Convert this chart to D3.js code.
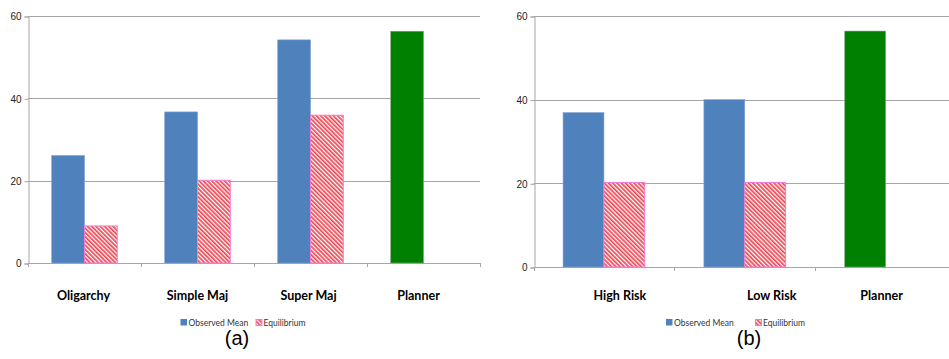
<!DOCTYPE html>
<html>
<head>
<meta charset="utf-8">
<script src="https://cdn.jsdelivr.net/npm/d3@7"></script>
<style>
  html, body { margin: 0; padding: 0; background: #fff; }
  svg { display: block; }
</style>
</head>
<body>
<svg id="chart" width="949" height="359"></svg>
<script>
// Panel (a): voting rules
const rulesCategories = ["Oligarchy", "Simple Maj", "Super Maj", "Planner"];
const rulesObserved = [26.1, 36.7, 54.2, 56.3];
const rulesEquilibrium = [9.0, 20.1, 35.9, null];

// Panel (b): risk treatments
const riskCategories = ["High Risk", "Low Risk", "Planner"];
const riskObserved = [36.9, 40.0, 56.4];
const riskEquilibrium = [20.2, 20.2, null];

const seriesNames = ["Observed Mean", "Equilibrium"];
const yTicks = [0, 20, 40, 60];
const panelTitles = ["(a)", "(b)"];

const svg = d3.select("#chart");

const BLUE = "#4f81bd";
const GREEN = "#008000";
const GRID = "#a6a6a6";

// Diagonal red hatch used for the equilibrium series
const defs = svg.append("defs");
const pat = defs.append("pattern")
  .attr("id", "hatch")
  .attr("patternUnits", "userSpaceOnUse")
  .attr("width", 3).attr("height", 3)
  .attr("patternTransform", "rotate(-45)");
pat.append("rect").attr("width", 3).attr("height", 3).attr("fill", "#fff");
pat.append("rect").attr("width", 1.7).attr("height", 3).attr("fill", "#f2434f");

function drawPanel(cfg) {
  const { left, right, top, bottom, categories, observed, equilibrium, title } = cfg;
  const g = svg.append("g");

  const x = d3.scaleBand().domain(categories).range([left, right]).padding(0);
  const y = d3.scaleLinear().domain([0, 60]).range([bottom, top]);

  // horizontal gridlines
  g.selectAll("line.grid").data(yTicks).enter().append("line")
    .attr("x1", left).attr("x2", right)
    .attr("y1", d => Math.round(y(d)) + 0.5).attr("y2", d => Math.round(y(d)) + 0.5)
    .attr("stroke", GRID).attr("stroke-width", 1);

  // y axis
  const yAxis = d3.axisLeft(y).tickValues(yTicks).tickSize(4).tickPadding(3);
  const ya = g.append("g").attr("transform", `translate(${Math.round(left) + 0.5},0.5)`).call(yAxis);
  ya.select(".domain").attr("stroke", GRID);
  ya.selectAll(".tick line").attr("stroke", GRID);
  ya.selectAll(".tick text")
    .attr("font-family", "'Liberation Sans', Arial, sans-serif")
    .attr("font-size", 10).attr("fill", "#222");

  // x-axis ticks at category boundaries
  const bounds = categories.map(c => x(c)).concat([right]);
  g.selectAll("line.xt").data(bounds).enter().append("line")
    .attr("x1", d => Math.round(d) + 0.5).attr("x2", d => Math.round(d) + 0.5)
    .attr("y1", Math.round(bottom)).attr("y2", Math.round(bottom) + 4)
    .attr("stroke", GRID);

  // bars
  const groupFrac = 0.58;
  const rows = categories.map((c, i) => ({ c, vals: [observed[i], equilibrium[i]] }));
  const inner = d3.scaleBand().domain([0, 1]).range([0, x.bandwidth() * groupFrac]);
  const off = x.bandwidth() * (1 - groupFrac) / 2;

  rows.forEach(r => {
    r.vals.forEach((v, k) => {
      if (v == null) return;
      const isPlanner = r.c === "Planner";
      const rect = g.append("rect")
        .attr("x", x(r.c) + off + inner(k))
        .attr("y", y(v))
        .attr("width", inner.bandwidth())
        .attr("height", y(0) - y(v));
      if (k === 0) {
        rect.attr("fill", isPlanner ? GREEN : BLUE)
          .attr("stroke", isPlanner ? "#7aa87a" : "#7d9fcf").attr("stroke-width", 0.6);
      } else {
        rect.attr("fill", "url(#hatch)").attr("stroke", "#f27bd6").attr("stroke-width", 1);
      }
    });
  });

  // category labels
  g.selectAll("text.cat").data(categories).enter().append("text")
    .attr("x", (d, i) => x(d) + x.bandwidth() / 2 + (cfg.labelDx ? cfg.labelDx[i] : 0))
    .attr("y", 300)
    .attr("text-anchor", "middle")
    .attr("font-family", "Lato, 'Open Sans', sans-serif")
    .attr("font-weight", 700)
    .attr("font-size", 12.5)
    .attr("fill", "#000")
    .text(d => d);

  // legend
  const lg = g.append("g").attr("transform", `translate(${cfg.legendX},319)`);
  const l2 = cfg.legendGap;
  lg.append("rect").attr("x", 0).attr("y", 0).attr("width", 6.5).attr("height", 6.5).attr("fill", BLUE);
  lg.append("text").attr("x", 8).attr("y", 6.8)
    .attr("font-family", "Lato, 'Open Sans', sans-serif").attr("font-size", 8.5).attr("fill", "#333")
    .text(seriesNames[0]);
  lg.append("rect").attr("x", l2 + 0.5).attr("y", 0.5).attr("width", 6).attr("height", 6)
    .attr("fill", "url(#hatch)").attr("stroke", "#f27bd6").attr("stroke-width", 1);
  lg.append("text").attr("x", l2 + 8).attr("y", 6.8)
    .attr("font-family", "Lato, 'Open Sans', sans-serif").attr("font-size", 8.5).attr("fill", "#333")
    .text(seriesNames[1]);

  // panel caption
  g.append("text").attr("x", cfg.titleX).attr("y", 345)
    .attr("text-anchor", "middle")
    .attr("font-family", "'Liberation Sans', Arial, sans-serif")
    .attr("font-size", 20).attr("fill", "#000")
    .text(title);
}

drawPanel({
  left: 28, right: 480, top: 16, bottom: 263,
  categories: rulesCategories, observed: rulesObserved, equilibrium: rulesEquilibrium,
  legendX: 180.5, legendGap: 75, titleX: 237, title: panelTitles[0],
  labelDx: [-1, 0, -2, -5]
});

drawPanel({
  left: 533.5, right: 956, top: 16, bottom: 267,
  categories: riskCategories, observed: riskObserved, equilibrium: riskEquilibrium,
  legendX: 666, legendGap: 89, titleX: 749, title: panelTitles[1],
  labelDx: [16, 27, -4]
});
</script>
</body>
</html>
